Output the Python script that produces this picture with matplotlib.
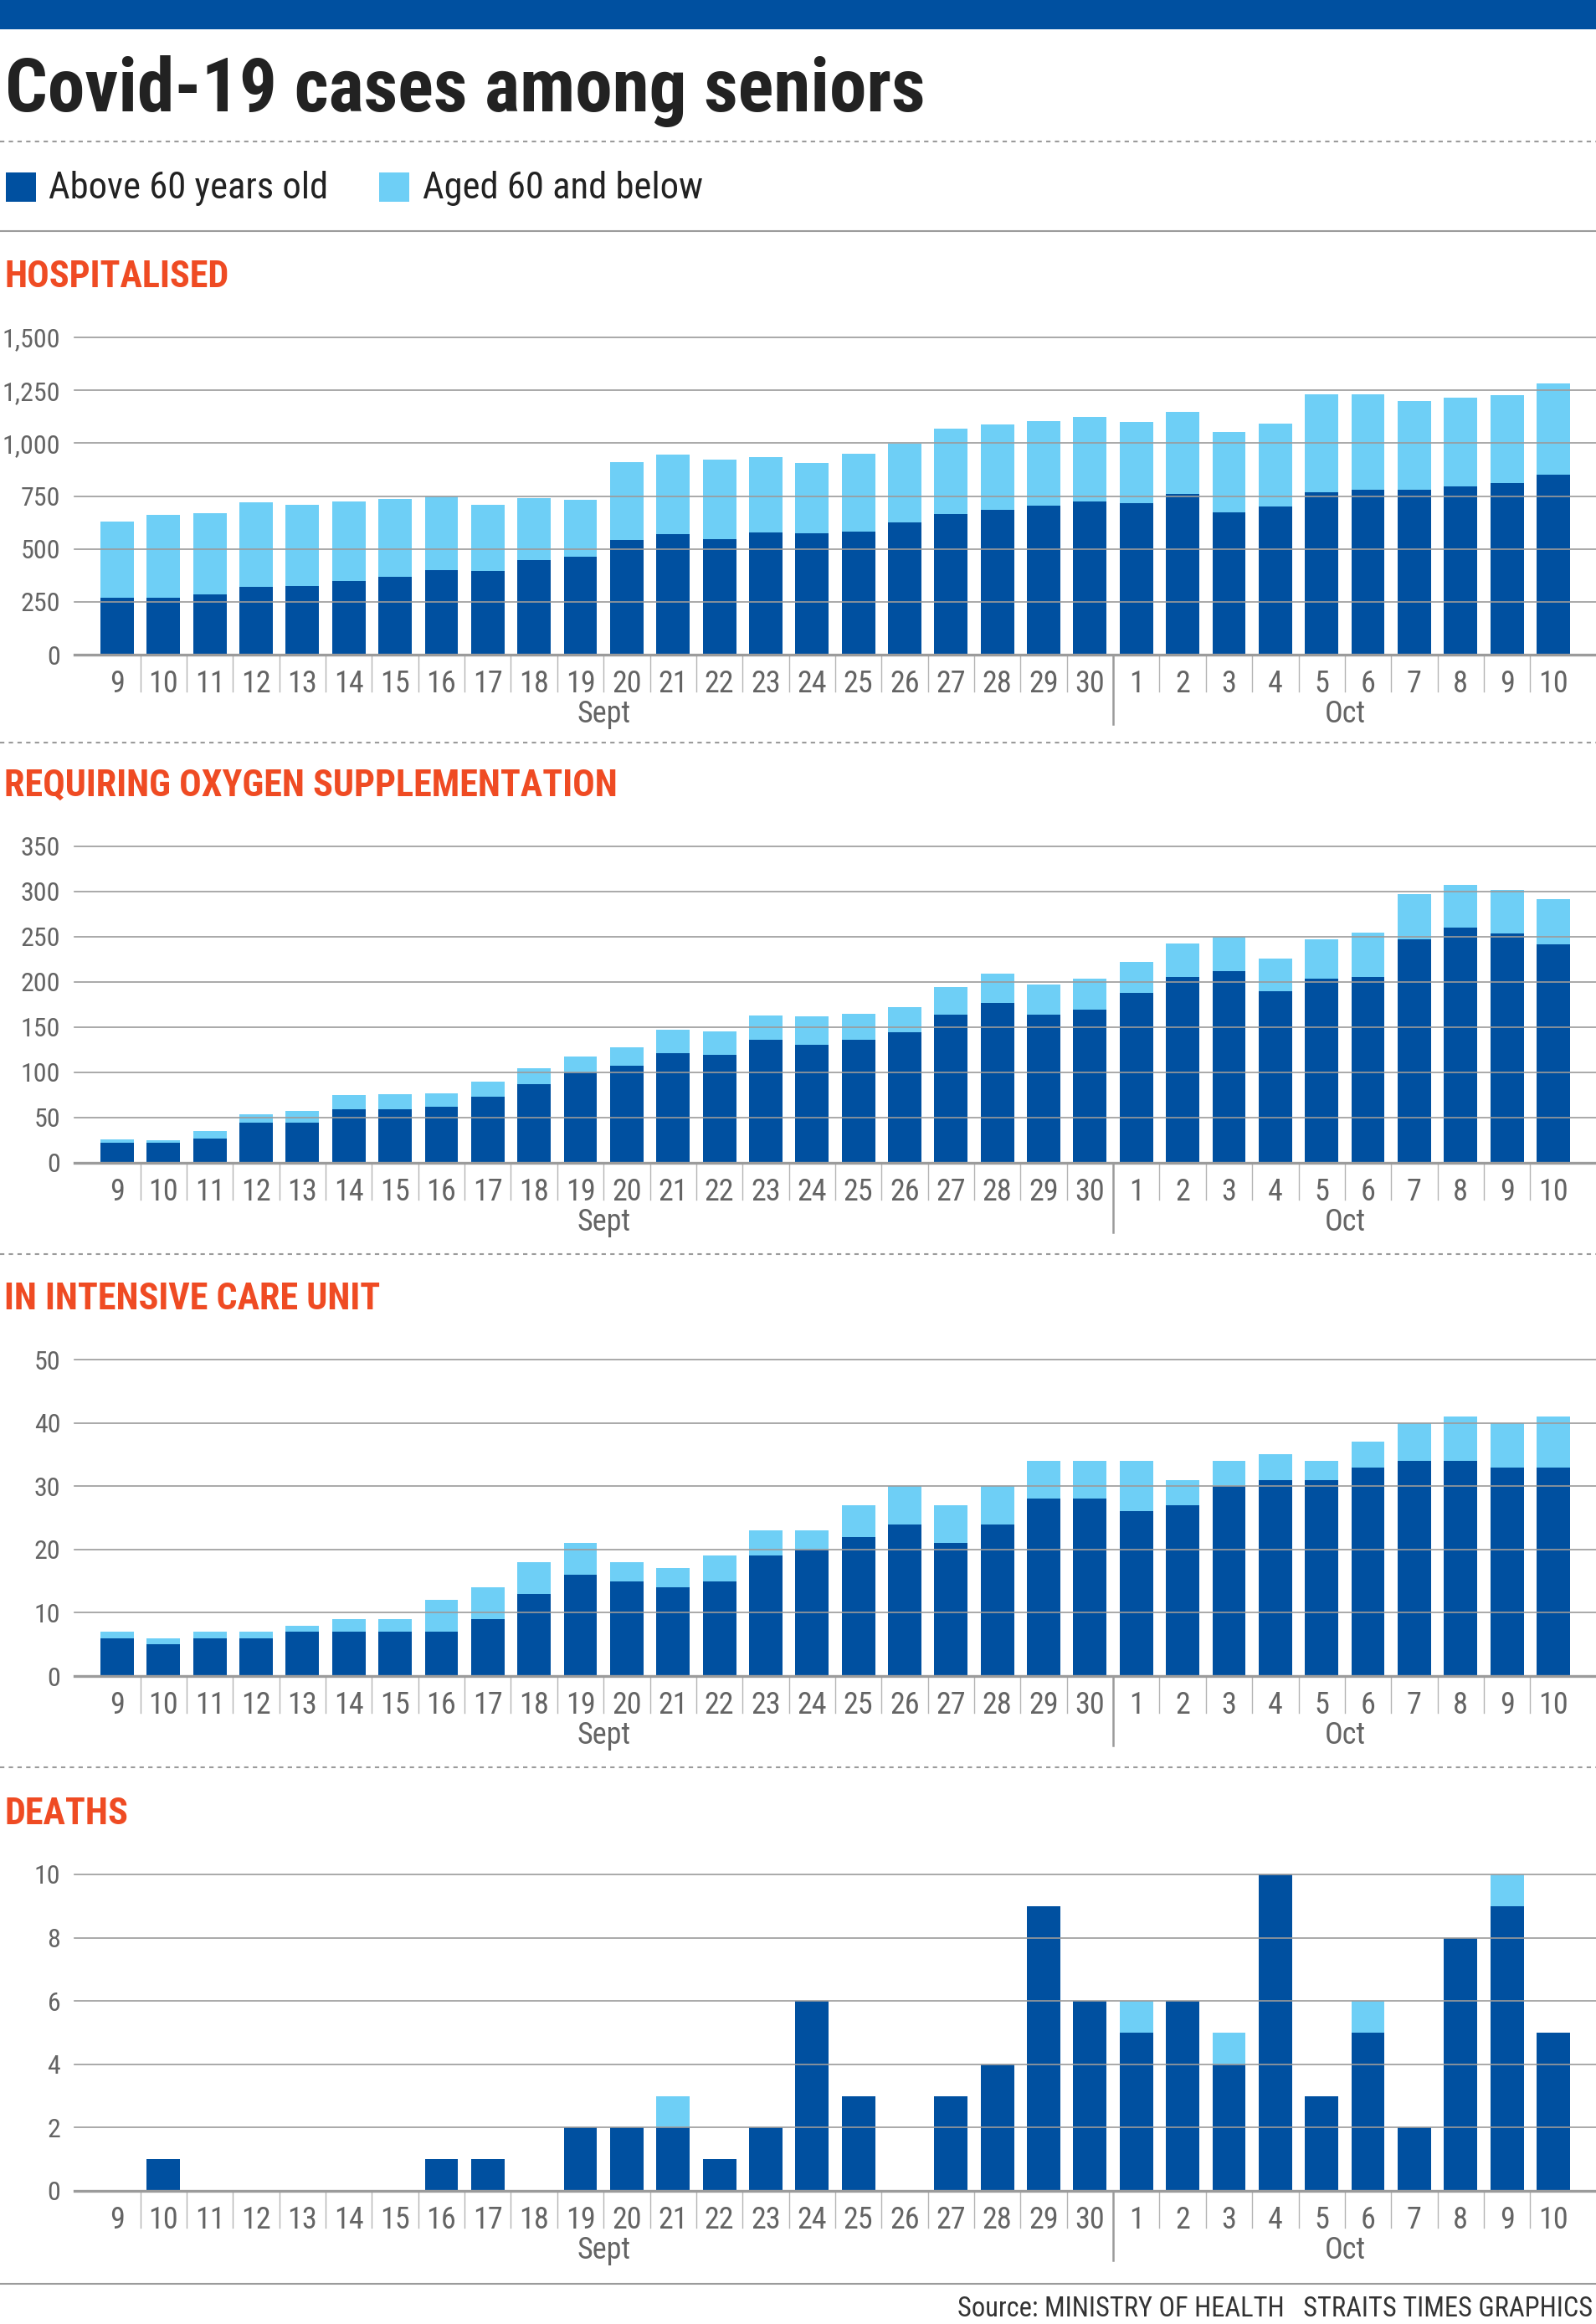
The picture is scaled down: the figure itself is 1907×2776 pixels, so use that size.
import matplotlib
matplotlib.use("Agg")
import matplotlib.pyplot as plt
from matplotlib import font_manager
from matplotlib.lines import Line2D
from matplotlib.patches import Rectangle
from matplotlib.transforms import blended_transform_factory

names = {f.name for f in font_manager.fontManager.ttflist}
FONT = next((f for f in ["Roboto Condensed", "Liberation Sans Narrow", "Roboto"] if f in names), "DejaVu Sans")
plt.rcParams['font.family'] = [FONT, 'DejaVu Sans']

DARK = "#0050a0"
LIGHT = "#6ecff6"
ORANGE = "#ef4b23"
GRID = "#9b9b9b"
TXT = "#646464"

days = ["9", "10", "11", "12", "13", "14", "15", "16", "17", "18", "19", "20",
        "21", "22", "23", "24", "25", "26", "27", "28", "29", "30",
        "1", "2", "3", "4", "5", "6", "7", "8", "9", "10"]

hosp_above = [270, 270, 284, 321, 325, 349, 370, 401, 396, 448, 464, 541, 569, 548, 578, 574,
              581, 624, 663, 684, 705, 724, 718, 761, 671, 701, 769, 781, 778, 795, 810, 851]
hosp_below = [361, 389, 383, 399, 385, 377, 368, 349, 314, 293, 270, 369, 377, 373, 356, 333,
              370, 375, 405, 403, 400, 399, 383, 386, 382, 393, 461, 448, 421, 422, 418, 431]

oxy_above = [22, 22, 27, 44, 44, 59, 59, 62, 73, 87, 100, 107, 121, 119, 136, 131,
             136, 144, 164, 177, 164, 169, 188, 206, 212, 190, 204, 206, 247, 260, 254, 242]
oxy_below = [4, 3, 8, 10, 13, 16, 17, 15, 17, 18, 18, 21, 26, 26, 27, 31,
             29, 28, 30, 32, 33, 35, 34, 37, 38, 36, 43, 49, 50, 47, 48, 50]

icu_above = [6, 5, 6, 6, 7, 7, 7, 7, 9, 13, 16, 15, 14, 15, 19, 20,
             22, 24, 21, 24, 28, 28, 26, 27, 30, 31, 31, 33, 34, 34, 33, 33]
icu_below = [1, 1, 1, 1, 1, 2, 2, 5, 5, 5, 5, 3, 3, 4, 4, 3,
             5, 6, 6, 6, 6, 6, 8, 4, 4, 4, 3, 4, 6, 7, 7, 8]

death_above = [0, 1, 0, 0, 0, 0, 0, 1, 1, 0, 2, 2, 2, 1, 2, 6,
               3, 0, 3, 4, 9, 6, 5, 6, 4, 10, 3, 5, 2, 8, 9, 5]
death_below = [0, 0, 0, 0, 0, 0, 0, 0, 0, 0, 0, 0, 1, 0, 0, 0,
               0, 0, 0, 0, 0, 0, 1, 0, 1, 0, 0, 1, 0, 0, 1, 0]

panels = [
    ("HOSPITALISED", hosp_above, hosp_below, 1500, 250, True),
    ("REQUIRING OXYGEN SUPPLEMENTATION", oxy_above, oxy_below, 350, 50, False),
    ("IN INTENSIVE CARE UNIT", icu_above, icu_below, 50, 10, False),
    ("DEATHS", death_above, death_below, 10, 2, False),
]
# pixel rows of the top gridline and the zero line of each panel
rows = [(403, 782), (1011, 1389), (1624, 2002), (2239, 2617)]

W, H = 1908, 2776
fig = plt.figure(figsize=(W / 100, H / 100), dpi=100)
renderer = fig.canvas.get_renderer()


def fy(px):
    return 1 - px / H


def fit(t, width_px):
    w = t.get_window_extent(renderer).width
    t.set_fontsize(t.get_fontsize() * width_px / w)


def hline(y, dashed=False, lw=1.5):
    ls = (0, (2.5, 2.5)) if dashed else "-"
    fig.add_artist(Line2D([0, 1], [fy(y), fy(y)], transform=fig.transFigure,
                          color=GRID, lw=lw, ls=ls))


# header
fig.add_artist(Rectangle((0, fy(35)), 1, 35 / H, transform=fig.transFigure,
                         color=DARK, lw=0))
title = fig.text(6 / W, fy(133), "Covid-19 cases among seniors", fontsize=60,
                 fontweight="bold", color="#222222", va="baseline")
fit(title, 1100)
hline(169, dashed=True)

fig.add_artist(Rectangle((7 / W, fy(241)), 36 / W, 35 / H, transform=fig.transFigure,
                         color=DARK, lw=0))
fig.add_artist(Rectangle((453 / W, fy(241)), 36 / W, 35 / H, transform=fig.transFigure,
                         color=LIGHT, lw=0))
l1 = fig.text(58 / W, fy(237), "Above 60 years old", fontsize=28, color="#222222", va="baseline")
fit(l1, 334)
fig.text(505 / W, fy(237), "Aged 60 and below", fontsize=l1.get_fontsize(),
         color="#222222", va="baseline")
hline(276)

# panels
head_size = None
for (name, above, below, ymax, step, comma), (top, zero) in zip(panels, rows):
    ax = fig.add_axes([89 / W, fy(zero), (W - 89) / W, (zero - top) / H])
    h = zero - top
    x = range(len(days))
    ax.bar(x, above, width=0.72, color=DARK, zorder=2)
    ax.bar(x, below, width=0.72, bottom=above, color=LIGHT, zorder=2)
    ax.set_xlim(-0.921, 31.94)
    ax.set_ylim(0, ymax)
    ticks = list(range(0, ymax + 1, step))
    for t in ticks[1:]:
        ax.axhline(t, color=GRID, lw=1.2, zorder=3, clip_on=False)
    ax.axhline(0, color=GRID, lw=2.4, zorder=3, clip_on=False)
    ax.set_yticks(ticks)
    ax.set_yticklabels([f"{t:,}" if comma else str(t) for t in ticks])
    ax.set_xticks(list(x))
    ax.set_xticklabels(days)
    ax.tick_params(axis="y", length=0, pad=12, labelsize=23, labelcolor=TXT)
    ax.tick_params(axis="x", length=0, pad=12, labelsize=26, labelcolor=TXT)
    for s in ax.spines.values():
        s.set_visible(False)
    ax.patch.set_visible(False)

    tr = blended_transform_factory(ax.transData, ax.transAxes)
    for i in range(len(days) - 1):
        if i == 21:
            ax.add_line(Line2D([i + 0.5, i + 0.5], [0, -83 / h], transform=tr,
                               color=GRID, lw=1.8, clip_on=False))
        else:
            ax.add_line(Line2D([i + 0.5, i + 0.5], [0, -44 / h], transform=tr,
                               color="#b4b4b4", lw=1.0, clip_on=False))
    ax.text(10.5, -71 / h, "Sept", transform=tr, ha="center", va="center",
            fontsize=26, color=TXT)
    ax.text(26.5, -71 / h, "Oct", transform=tr, ha="center", va="center",
            fontsize=26, color=TXT)

    hd = fig.text(5 / W, fy(top - 60), name, fontsize=30, fontweight="bold",
                  color=ORANGE, va="baseline")
    if head_size is None:
        probe = fig.text(0, 0, "REQUIRING OXYGEN SUPPLEMENTATION", fontsize=30,
                         fontweight="bold")
        fit(probe, 733)
        head_size = probe.get_fontsize()
        probe.remove()
    hd.set_fontsize(head_size)

for y in (887, 1498, 2111):
    hline(y, dashed=True)
hline(2728)

src = fig.text(1903 / W, fy(2767), "Source: MINISTRY OF HEALTH   STRAITS TIMES GRAPHICS",
               fontsize=20, color="#333333", ha="right", va="baseline")
fit(src, 760)

fig.savefig("out.png", dpi=100)
